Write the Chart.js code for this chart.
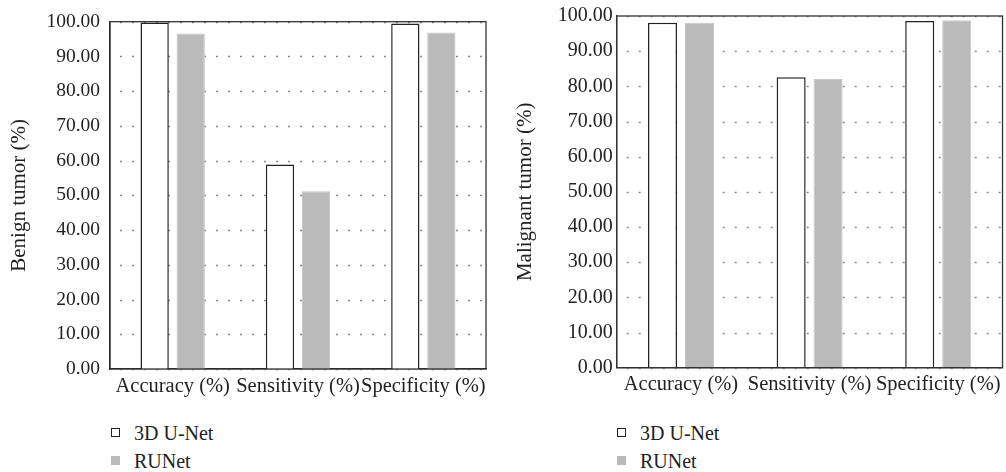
<!DOCTYPE html>
<html>
<head>
<meta charset="utf-8">
<script src="https://cdn.jsdelivr.net/npm/chart.js@4"></script>
<style>
  body { margin: 0; background: #fff; }
  #wrap { position: relative; width: 1006px; height: 472px; font-family: "Liberation Serif", "Times New Roman", "DejaVu Serif", serif; }
  .box { position: absolute; }
  .legend { position: absolute; font-size: 20px; color: #222; }
  .legend div { position: relative; height: 28px; line-height: 28px; padding-left: 23px; white-space: nowrap; }
  .legend span { position: absolute; left: 0; top: 9px; width: 9px; height: 9px; box-sizing: border-box; }
</style>
</head>
<body>
<div id="wrap">
  <div class="box" style="left:0;top:0;width:500px;height:400px;"><canvas id="benignChart"></canvas></div>
  <div class="box" style="left:500px;top:0;width:506px;height:400px;"><canvas id="malignantChart"></canvas></div>
  <div class="legend" id="legendLeft" style="left:111px;top:419px;"></div>
  <div class="legend" id="legendRight" style="left:617px;top:419px;"></div>
</div>
<script>
// Категории и значения
const categories = ['Accuracy (%)', 'Sensitivity (%)', 'Specificity (%)'];
const seriesNames = ['3D U-Net', 'RUNet'];
const benignUNet = [99.8, 58.9, 99.5];
const benignRUNet = [96.6, 51.2, 96.9];
const malignantUNet = [98.1, 82.6, 98.6];
const malignantRUNet = [98.1, 82.1, 98.8];
const yTickLabels = ['0.00', '10.00', '20.00', '30.00', '40.00', '50.00', '60.00', '70.00', '80.00', '90.00', '100.00'];

const FONT = '"Liberation Serif", "Times New Roman", "DejaVu Serif", serif';

// рамка вокруг области графика
const frame = {
  id: 'frame',
  afterDraw(chart) {
    const a = chart.chartArea;
    const c = chart.ctx;
    c.save();
    c.strokeStyle = '#333';
    c.lineWidth = 1.3;
    c.strokeRect(a.left, a.top, a.right - a.left, a.bottom - a.top);
    c.restore();
  }
};

// точечные горизонтальные линии сетки
const dotGrid = {
  id: 'dotGrid',
  beforeDatasetsDraw(chart) {
    const y = chart.scales.y;
    const a = chart.chartArea;
    const c = chart.ctx;
    c.save();
    c.strokeStyle = '#8a8a8a';
    c.lineWidth = 1.5;
    c.setLineDash([2, 10]);
    y.ticks.forEach(t => {
      const py = Math.round(y.getPixelForValue(t.value)) + 0.5;
      c.beginPath();
      c.moveTo(a.left + 10, py);
      c.lineTo(a.right, py);
      c.stroke();
    });
    c.restore();
  }
};

function makeChart(id, unet, runet, opts) {
  const ctx = document.getElementById(id).getContext('2d');
  return new Chart(ctx, {
    type: 'bar',
    data: {
      labels: categories,
      datasets: [
        {
          label: seriesNames[0],
          data: unet,
          backgroundColor: '#ffffff',
          borderColor: '#222',
          borderWidth: 1.5,
          categoryPercentage: 0.575,
          barPercentage: 0.785
        },
        {
          label: seriesNames[1],
          data: runet,
          backgroundColor: '#bababa',
          borderColor: '#c6c6c6',
          borderWidth: 1,
          categoryPercentage: 0.575,
          barPercentage: 0.785
        }
      ]
    },
    options: {
      responsive: true,
      maintainAspectRatio: false,
      animation: false,
      plugins: {
        legend: { display: false },
        tooltip: { enabled: false }
      },
      layout: {
        padding: { left: 0, right: opts.padRight, top: opts.padTop, bottom: 0 }
      },
      scales: {
        x: {
          grid: { display: false, drawTicks: false },
          border: { display: true, color: '#222', width: 1.3 },
          ticks: {
            color: '#222',
            font: { family: FONT, size: 20.5 },
            padding: 5,
            maxRotation: 0,
            minRotation: 0,
            autoSkip: false
          },
          afterFit(scale) { scale.height = opts.xHeight; }
        },
        y: {
          min: 0,
          max: 100,
          grid: { display: false, drawTicks: false },
          border: { display: true, color: '#222', width: 1.3 },
          ticks: {
            stepSize: 10,
            color: '#222',
            font: { family: FONT, size: opts.tickSize },
            padding: opts.tickPad,
            callback: (v, i) => yTickLabels[i]
          },
          title: {
            display: true,
            text: opts.title,
            color: '#222',
            font: { family: FONT, size: 21 },
            padding: { top: opts.titlePad, bottom: 0 }
          },
          afterFit(scale) { scale.width = opts.yWidth; }
        }
      }
    },
    plugins: [dotGrid, frame]
  });
}

makeChart('benignChart', benignUNet, benignRUNet, {
  title: 'Benign tumor (%)', yWidth: 110, xHeight: 31, padTop: 20.7, padRight: 14,
  tickSize: 19.5, tickPad: 10, titlePad: 7
});

makeChart('malignantChart', malignantUNet, malignantRUNet, {
  title: 'Malignant tumor (%)', yWidth: 116.7, xHeight: 32.3, padTop: 15.3, padRight: 2.7,
  tickSize: 20, tickPad: 4, titlePad: 12.4
});

// легенда
function buildLegend(elId) {
  const el = document.getElementById(elId);
  const styles = ['background:#fff;border:1.3px solid #222;', 'background:#bababa;'];
  seriesNames.forEach((name, i) => {
    const row = document.createElement('div');
    row.innerHTML = '<span style="' + styles[i] + '"></span>' + name;
    el.appendChild(row);
  });
}
buildLegend('legendLeft');
buildLegend('legendRight');
</script>
</body>
</html>
